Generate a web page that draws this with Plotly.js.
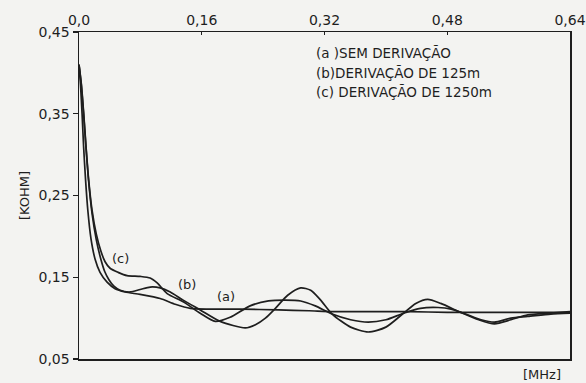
<!DOCTYPE html>
<html>
<head>
<meta charset="utf-8">
<script src="https://cdn.plot.ly/plotly-3.0.1.min.js"></script>
<style>html,body{margin:0;padding:0;background:#f3f3f1;}</style>
</head>
<body>
<div id="chart" style="width:586px;height:383px;"></div>
<script>
// Frequency in MHz, impedance in KOHM
const xA = [0, 0.002, 0.004, 0.006, 0.0085, 0.0115, 0.0155, 0.021, 0.0274, 0.0366, 0.047, 0.060, 0.0797, 0.1058, 0.1254, 0.145, 0.17, 0.21, 0.26, 0.30, 0.33, 0.38, 0.43, 0.48, 0.53, 0.585, 0.61, 0.64];
const yA = [0.41, 0.385, 0.35, 0.31, 0.27, 0.232, 0.198, 0.172, 0.156, 0.144, 0.136, 0.132, 0.129, 0.124, 0.117, 0.112, 0.111, 0.111, 0.110, 0.109, 0.108, 0.108, 0.108, 0.107, 0.107, 0.107, 0.107, 0.107];

const xB = [0, 0.003, 0.006, 0.009, 0.0125, 0.017, 0.0225, 0.0285, 0.0335, 0.039, 0.0455, 0.0536, 0.0666, 0.0797, 0.0927, 0.1058, 0.1189, 0.1358, 0.158, 0.184, 0.2168, 0.23, 0.243, 0.256, 0.272, 0.289, 0.302, 0.315, 0.330, 0.354, 0.377, 0.400, 0.423, 0.439, 0.4545, 0.4715, 0.4976, 0.521, 0.5415, 0.563, 0.585, 0.615, 0.64];
const yB = [0.41, 0.385, 0.35, 0.31, 0.268, 0.228, 0.196, 0.172, 0.157, 0.147, 0.139, 0.134, 0.132, 0.135, 0.138, 0.137, 0.132, 0.122, 0.110, 0.096, 0.088, 0.092, 0.100, 0.112, 0.128, 0.137, 0.134, 0.122, 0.105, 0.089, 0.083, 0.089, 0.106, 0.118, 0.123, 0.118, 0.107, 0.098, 0.093, 0.098, 0.104, 0.106, 0.108];

const xC = [0, 0.003, 0.006, 0.009, 0.0125, 0.017, 0.0225, 0.0285, 0.034, 0.0405, 0.051, 0.0627, 0.0797, 0.0927, 0.1019, 0.1149, 0.1358, 0.158, 0.1776, 0.197, 0.223, 0.247, 0.269, 0.289, 0.308, 0.330, 0.354, 0.377, 0.400, 0.423, 0.445, 0.468, 0.485, 0.504, 0.524, 0.5415, 0.563, 0.585, 0.615, 0.64];
const yC = [0.41, 0.387, 0.352, 0.312, 0.27, 0.232, 0.203, 0.182, 0.169, 0.161, 0.156, 0.152, 0.151, 0.149, 0.143, 0.130, 0.120, 0.106, 0.096, 0.101, 0.115, 0.121, 0.122, 0.121, 0.115, 0.105, 0.098, 0.095, 0.098, 0.106, 0.112, 0.113, 0.111, 0.105, 0.098, 0.095, 0.100, 0.102, 0.105, 0.106];

const xTickVals = [0, 0.16, 0.32, 0.48, 0.64];
const xTickText = ['0,0', '0,16', '0,32', '0,48', '0,64'];
const yTickVals = [0.05, 0.15, 0.25, 0.35, 0.45];
const yTickText = ['0,05', '0,15', '0,25', '0,35', '0,45'];

const legendLines = ['(a )SEM DERIVAÇÃO', '(b)DERIVAÇÃO DE 125m', '(c) DERIVAÇÃO DE 1250m'];
const curveLabels = ['(a)', '(b)', '(c)'];

const FONT = 'DejaVu Sans, sans-serif';
const INK = '#1e1e1e';
const lineStyle = {color: INK, width: 1.7, shape: 'spline', smoothing: 0.7};

const traces = [
  {x: xA, y: yA, mode: 'lines', line: lineStyle, hoverinfo: 'skip'},
  {x: xB, y: yB, mode: 'lines', line: lineStyle, hoverinfo: 'skip'},
  {x: xC, y: yC, mode: 'lines', line: lineStyle, hoverinfo: 'skip'}
];

const annotations = [];
const legendY = [0.424, 0.400, 0.377];
legendLines.forEach((t, i) => annotations.push({
  x: 0.306, y: legendY[i], xref: 'x', yref: 'y', text: t, showarrow: false,
  xanchor: 'left', yanchor: 'middle', font: {family: FONT, size: 13.5, color: INK}
}));
const labPos = [[0.191, 0.126], [0.141, 0.141], [0.0536, 0.173]];
curveLabels.forEach((t, i) => annotations.push({
  x: labPos[i][0], y: labPos[i][1], xref: 'x', yref: 'y', text: t, showarrow: false,
  xanchor: 'center', yanchor: 'middle', font: {family: FONT, size: 13, color: INK}
}));
annotations.push({
  x: 0.942, y: -0.046, xref: 'paper', yref: 'paper', text: '[MHz]', showarrow: false,
  xanchor: 'center', yanchor: 'middle', font: {family: FONT, size: 13, color: INK}
});

const layout = {
  width: 586, height: 383,
  margin: {l: 79, r: 16, t: 32, b: 24},
  paper_bgcolor: '#f3f3f1', plot_bgcolor: '#f3f3f1',
  showlegend: false,
  font: {family: FONT, color: INK, size: 13},
  xaxis: {
    range: [0, 0.64], side: 'top', tickvals: xTickVals, ticktext: xTickText,
    showgrid: false, zeroline: false, showline: true, linecolor: INK, linewidth: 1.5,
    mirror: true, ticks: 'inside', ticklen: 3, tickcolor: INK, tickwidth: 1.2,
    tickfont: {family: FONT, size: 14, color: INK}
  },
  yaxis: {
    range: [0.05, 0.45], tickvals: yTickVals, ticktext: yTickText,
    showgrid: false, zeroline: false, showline: true, linecolor: INK, linewidth: 1.5,
    mirror: true, ticks: 'outside', ticklen: 5, tickcolor: INK, tickwidth: 1.2,
    tickfont: {family: FONT, size: 14, color: INK},
    title: {text: '[KOHM]', standoff: 6, font: {family: FONT, size: 13, color: INK}}
  },
  annotations: annotations
};

Plotly.newPlot('chart', traces, layout, {displayModeBar: false, staticPlot: true});
</script>
</body>
</html>
